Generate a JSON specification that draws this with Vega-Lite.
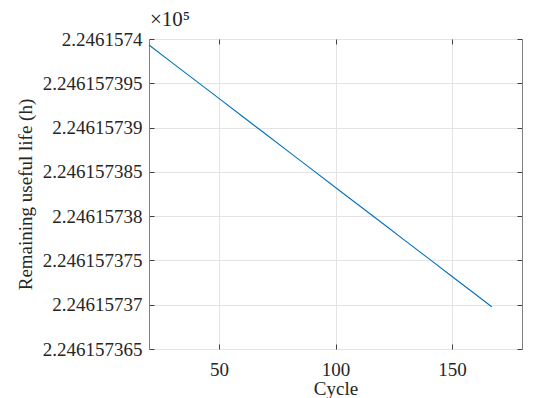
{
  "$schema": "https://vega.github.io/schema/vega-lite/v6.json",
  "width": 373,
  "height": 310,
  "autosize": {"type": "none"},
  "padding": {"left": 149, "top": 39, "right": 12, "bottom": 49},
  "background": "white",
  "title": {"text": "×10⁵", "anchor": "start", "frame": "group", "font": "Liberation Serif", "fontSize": 21, "fontWeight": "normal", "color": "#262626", "offset": 0, "dx": 1},
  "config": {
    "view": {"stroke": "#808080", "strokeWidth": 1},
    "axis": {"labelFont": "Liberation Serif", "titleFont": "Liberation Serif", "labelFontSize": 19, "titleFontSize": 19, "titleFontWeight": "normal", "labelColor": "#262626", "titleColor": "#262626", "gridColor": "#e3e3e3", "gridWidth": 1, "domain": false, "tickColor": "#404040"}
  },
  "data": {"values": [
    {"cycle": 20, "rul": 2.24615739932},
    {"cycle": 30, "rul": 2.24615739731},
    {"cycle": 40, "rul": 2.2461573953},
    {"cycle": 50, "rul": 2.24615739329},
    {"cycle": 60, "rul": 2.24615739128},
    {"cycle": 70, "rul": 2.24615738927},
    {"cycle": 80, "rul": 2.24615738726},
    {"cycle": 90, "rul": 2.24615738525},
    {"cycle": 100, "rul": 2.24615738324},
    {"cycle": 110, "rul": 2.24615738123},
    {"cycle": 120, "rul": 2.24615737922},
    {"cycle": 130, "rul": 2.24615737721},
    {"cycle": 140, "rul": 2.2461573752},
    {"cycle": 150, "rul": 2.24615737319},
    {"cycle": 160, "rul": 2.24615737118},
    {"cycle": 167, "rul": 2.24615736977}
  ]},
  "layer": [
    {
      "mark": {"type": "line", "color": "#0072BD", "strokeWidth": 1.1},
      "encoding": {
        "x": {"field": "cycle", "type": "quantitative", "title": "Cycle",
              "scale": {"domain": [20, 180], "nice": false, "zero": false},
              "axis": {"values": [50, 100, 150], "tickSize": -5, "labelPadding": 16, "titlePadding": 0}},
        "y": {"field": "rul", "type": "quantitative", "title": "Remaining useful life (h)",
              "scale": {"domain": [2.246157365, 2.2461574], "nice": false, "zero": false},
              "axis": {"values": [2.246157365, 2.24615737, 2.246157375, 2.24615738, 2.246157385, 2.24615739, 2.246157395, 2.2461574], "format": ".10~f", "tickSize": -5, "labelPadding": 12, "titlePadding": 7}}
      }
    },
    {
      "mark": {"type": "line", "strokeOpacity": 0},
      "encoding": {
        "x": {"field": "cycle", "type": "quantitative",
              "scale": {"domain": [20, 180], "nice": false, "zero": false},
              "axis": {"orient": "top", "values": [50, 100, 150], "tickSize": -5, "labels": false, "grid": false, "title": null}},
        "y": {"field": "rul", "type": "quantitative",
              "scale": {"domain": [2.246157365, 2.2461574], "nice": false, "zero": false},
              "axis": {"orient": "right", "values": [2.246157365, 2.24615737, 2.246157375, 2.24615738, 2.246157385, 2.24615739, 2.246157395, 2.2461574], "tickSize": -5, "labels": false, "grid": false, "title": null}}
      }
    }
  ],
  "resolve": {"axis": {"x": "independent", "y": "independent"}}
}
